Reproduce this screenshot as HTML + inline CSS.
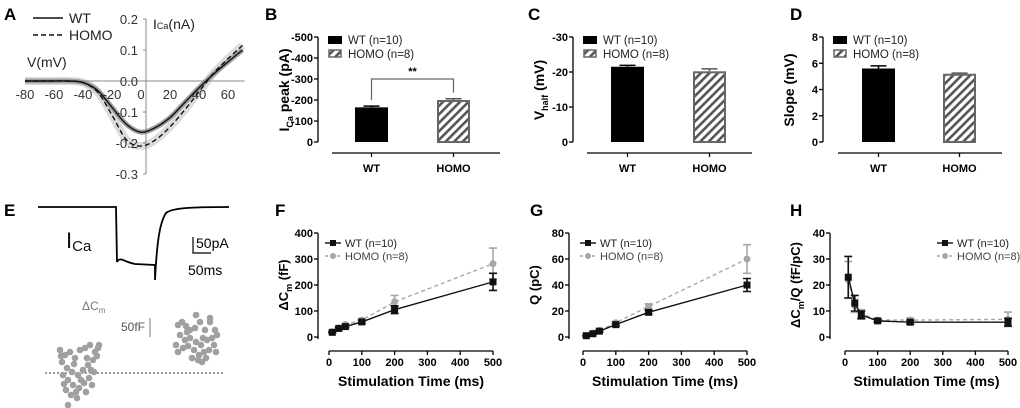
<!DOCTYPE html>
<html><head><meta charset="utf-8">
<style>
html,body{margin:0;padding:0;background:#fff;}
svg{display:block;font-family:"Liberation Sans",Arial,sans-serif;}
</style></head>
<body>
<svg id="fig" width="1020" height="408" viewBox="0 0 1020 408" xmlns="http://www.w3.org/2000/svg">
<defs>
<pattern id="hatch" patternUnits="userSpaceOnUse" width="6" height="6" patternTransform="rotate(45)">
<rect width="6" height="6" fill="#fff"/><rect x="0" y="0" width="2.6" height="6" fill="#555"/>
</pattern>
</defs>
<g font-size="17" font-weight="bold">
<text x="4" y="20">A</text><text x="265" y="20">B</text><text x="528" y="20">C</text><text x="790" y="20">D</text>
<text x="4" y="216">E</text><text x="275" y="216">F</text><text x="530" y="216">G</text><text x="790" y="216">H</text>
</g>
<g id="pA"></g>
<g id="pB"></g>
<g id="pC"></g>
<g id="pD"></g>
<g id="pE"></g>
<g id="pF"></g>
<g id="pG"></g>
<g id="pH"></g>
</svg>
<script>
// ---- Panel A data ----
const ivVoltages=[-80,-70,-60,-50,-40,-30,-20,-10,0,10,20,30,40,50,60,70];
const ivWT=[0,0,0,0,-0.005,-0.03,-0.085,-0.14,-0.165,-0.15,-0.118,-0.07,-0.022,0.022,0.062,0.1];
const ivHOMO=[0,0,0,0,-0.005,-0.035,-0.11,-0.19,-0.21,-0.19,-0.148,-0.094,-0.035,0.025,0.072,0.115];
const ivXTicks=[-80,-60,-40,-20,0,20,40,60];
const ivYTicks=[0.2,0.1,0.0,-0.1,-0.2,-0.3];
// ---- Bar data ----
const barGroups=["WT","HOMO"];
const icaPeak=[165,200]; const icaErr=[6,6];
const icaTicks=[0,100,200,300,400,500];
const vhalf=[21.5,20.2]; const vhalfErr=[0.4,0.7];
const vhalfTicks=[0,10,20,30];
const slope=[5.6,5.2]; const slopeErr=[0.2,0.05];
const slopeTicks=[0,2,4,6,8];
// ---- Line data ----
const stimTimes=[10,30,50,100,200,500];
const timeTicks=[0,100,200,300,400,500];
const cmWT=[18,33,40,58,105,212]; const cmWTErr=[3,4,4,6,15,33];
const cmHOMO=[20,35,48,65,135,282]; const cmHOMOErr=[3,4,4,6,25,60];
const cmTicks=[0,100,200,300,400];
const qWT=[1,2.5,4.5,9.5,19,40]; const qWTErr=[0.5,0.5,0.7,1,1.5,5];
const qHOMO=[1,3,5,11,23.5,60]; const qHOMOErr=[0.5,0.5,0.7,1,2,11];
const qTicks=[0,20,40,60,80];
const effWT=[23,13,8.5,6.2,5.7,5.7]; const effWTErr=[8,3,1.5,0.5,0.7,1.5];
const effHOMO=[22,12,9,6.5,6.5,6.8]; const effHOMOErr=[7,2.5,1.5,0.6,0.8,2.8];
const effTicks=[0,10,20,30,40];
// ---- Panel E dots ----
const dots1=[[60,350],[65,355],[70,352],[75,358],[80,350],[85,348],[90,345],[95,352],[98,348],[62,362],[67,368],[72,372],[78,375],[83,370],[88,365],[93,360],[97,356],[63,375],[68,380],[73,385],[79,388],[84,383],[89,378],[94,372],[66,390],[71,395],[77,398],[86,392],[92,385],[68,405],[61,356],[74,364],[81,380],[87,358],[99,345],[64,384],[76,392],[91,370]];
const dots2=[[178,325],[182,322],[186,326],[190,330],[195,328],[200,322],[205,330],[210,322],[215,330],[180,335],[185,340],[190,338],[196,342],[201,345],[207,340],[212,338],[217,335],[183,348],[188,346],[194,350],[199,355],[204,352],[209,350],[214,345],[176,345],[178,352],[192,358],[202,362],[216,352],[196,315],[210,318],[187,332],[203,338],[198,360],[206,358]];

const NS="http://www.w3.org/2000/svg";
function mk(parent,tag,attrs,text){const e=document.createElementNS(NS,tag);for(const k in attrs)e.setAttribute(k,attrs[k]);if(text!==undefined)e.textContent=text;parent.appendChild(e);return e;}

// ---------- Panel A ----------
(function(){
const g=document.getElementById('pA');
const X0=25,X1=228,Y0=81;
const sx=v=>X0+(v+80)*(X1-X0)/140;
const sy=v=>Y0-v*310;
function path(arr){const pts=ivVoltages.map((v,i)=>[sx(v),sy(arr[i])]);
let d='M'+pts[0][0]+','+pts[0][1];
for(let i=1;i<pts.length;i++){const p0=pts[Math.max(0,i-2)],p1=pts[i-1],p2=pts[i],p3=pts[Math.min(pts.length-1,i+1)];
d+=' C'+(p1[0]+(p2[0]-p0[0])/6)+','+(p1[1]+(p2[1]-p0[1])/6)+' '+(p2[0]-(p3[0]-p1[0])/6)+','+(p2[1]-(p3[1]-p1[1])/6)+' '+p2[0]+','+p2[1];}
return d;}
const band2=mk(g,'path',{d:path(ivHOMO),fill:'none',stroke:'#dcdcdc','stroke-width':8});

const band=mk(g,'path',{d:path(ivWT),fill:'none',stroke:'#a0a0a0','stroke-width':5});

const ax=mk(g,'line',{x1:sx(-80),x2:sx(70)+2,y1:Y0,y2:Y0,stroke:'#888','stroke-width':1});

const ay=mk(g,'line',{x1:146,x2:146,y1:sy(0.2),y2:sy(-0.3),stroke:'#888','stroke-width':1});

ivYTicks.forEach(t=>{const l=mk(g,'line',{x1:143,x2:146,y1:sy(t),y2:sy(t),stroke:'#888'});

const tx=mk(g,'text',{x:138,y:sy(t)+5,'text-anchor':'end','font-size':13,fill:'#333'},t.toFixed(1));
});
ivXTicks.forEach(t=>{const tx=mk(g,'text',{x:sx(t),y:99,'text-anchor':'middle','font-size':13,fill:'#333'},String(t));
});
const lw=mk(g,'path',{d:path(ivWT),fill:'none',stroke:'#111','stroke-width':1.4});

const lh=mk(g,'path',{d:path(ivHOMO),fill:'none',stroke:'#111','stroke-width':1.4,'stroke-dasharray':'5,3'});

const l1=mk(g,'line',{x1:33,x2:63,y1:18,y2:18,stroke:'#111','stroke-width':1.4});

const t1=mk(g,'text',{x:69,y:23,'font-size':14,fill:'#222'},'WT');

const l2=mk(g,'line',{x1:33,x2:63,y1:35,y2:35,stroke:'#111','stroke-width':1.4,'stroke-dasharray':'5,3'});

const t2=mk(g,'text',{x:69,y:40,'font-size':14,fill:'#222'},'HOMO');

const vl=mk(g,'text',{x:27,y:67,'font-size':14,fill:'#222'},'V(mV)');

const il=mk(g,'text',{x:153,y:29,'font-size':14,fill:'#222'});

il.innerHTML='I<tspan font-size="9">Ca</tspan><tspan>(nA)</tspan>';
})();

// ---------- Bar panels ----------
function barPanel(id,axX,vals,errs,ticks,tickPrefix,titleHTML,bars,xl,xr,showSig){
const g=document.getElementById(id);
const Y0=142,YT=37,max=ticks[ticks.length-1];
const sy=v=>Y0-v*(Y0-YT)/max;
const ay=mk(g,'line',{x1:axX,x2:axX,y1:YT,y2:Y0,stroke:'#000','stroke-width':1.3});

ticks.forEach(t=>{const l=mk(g,'line',{x1:axX-4,x2:axX,y1:sy(t),y2:sy(t),stroke:'#000','stroke-width':1.3});

const tx=mk(g,'text',{x:axX-5,y:sy(t)+4,'text-anchor':'end','font-size':11,'font-weight':'bold'},(t===0?'':tickPrefix)+t);
});
const axx=mk(g,'line',{x1:xl,x2:xr,y1:153,y2:153,stroke:'#000','stroke-width':1.3});

vals.forEach((v,i)=>{const x=bars[i],w=33,c=x+w/2;
const top=sy(v),eTop=sy(v+errs[i]);
const el=mk(g,'line',{x1:c,x2:c,y1:top,y2:eTop,stroke:i?'#555':'#000','stroke-width':1.5});

const ec=mk(g,'line',{x1:c-8,x2:c+8,y1:eTop,y2:eTop,stroke:i?'#555':'#000','stroke-width':1.5});

const r=mk(g,'rect',{x:i?x+1:x,y:i?top+1:top,width:i?w-2:w,height:i?Y0-top-1:Y0-top,fill:i?'url(#hatch)':'#000',stroke:i?'#666':'none','stroke-width':2});

const tk=mk(g,'line',{x1:c,x2:c,y1:153,y2:157,stroke:'#000','stroke-width':1.3});

const lb=mk(g,'text',{x:c,y:172,'text-anchor':'middle','font-size':11,'font-weight':'bold'},barGroups[i]);
});
const lx=axX+10;
const r1=mk(g,'rect',{x:lx,y:36,width:14,height:8,fill:'#000'});

const t1=mk(g,'text',{x:lx+20,y:44,'font-size':11.5,fill:'#222'},'WT (n=10)');

const r2=mk(g,'rect',{x:lx+1,y:50,width:12,height:7,fill:'url(#hatch)',stroke:'#666','stroke-width':1.5});

const t2=mk(g,'text',{x:lx+20,y:58,'font-size':11.5,fill:'#222'},'HOMO (n=8)');

const tt=mk(g,'text',{transform:'translate('+(axX-29)+',90) rotate(-90)','text-anchor':'middle','font-size':14,'font-weight':'bold'});

tt.innerHTML=titleHTML;
if(showSig){const c1=bars[0]+16.5,c2=bars[1]+16.5;
const br=mk(g,'path',{d:'M'+c1+','+(sy(vals[0]+errs[0])-6)+' V79 H'+c2+' V'+(sy(vals[1]+errs[1])-6),fill:'none',stroke:'#666','stroke-width':1.2});

const st=mk(g,'text',{x:(c1+c2)/2,y:75,'text-anchor':'middle','font-size':11,'font-weight':'bold'},'**');
}
}
barPanel('pB',318,icaPeak,icaErr,icaTicks,'-','I<tspan font-size="9" dy="4">Ca</tspan><tspan dy="-4"> peak  (pA)</tspan>',[355,437],332,500,true);
barPanel('pC',573,vhalf,vhalfErr,vhalfTicks,'-','V<tspan font-size="9" dy="4">half</tspan><tspan dy="-4"> (mV)</tspan>',[611,693],587,752,false);
barPanel('pD',823,slope,slopeErr,slopeTicks,'','Slope (mV)',[862,943],838,1002,false);

// ---------- Line panels ----------
function linePanel(id,axX,x0,x1,wt,wtE,ho,hoE,ticks,titleHTML,legX){
const g=document.getElementById(id);
const Y0=337,YT=233,max=ticks[ticks.length-1];
const sy=v=>Y0-v*(Y0-YT)/max;
const sx=t=>x0+t*(x1-x0)/500;
const ay=mk(g,'line',{x1:axX,x2:axX,y1:YT,y2:Y0+2,stroke:'#000','stroke-width':1.3});

ticks.forEach(t=>{const l=mk(g,'line',{x1:axX-4,x2:axX,y1:sy(t),y2:sy(t),stroke:'#000','stroke-width':1.3});

const tx=mk(g,'text',{x:axX-5,y:sy(t)+4,'text-anchor':'end','font-size':11,'font-weight':'bold'},String(t));
});
const axx=mk(g,'line',{x1:x0,x2:x1,y1:351,y2:351,stroke:'#000','stroke-width':1.3});

timeTicks.forEach(t=>{const l=mk(g,'line',{x1:sx(t),x2:sx(t),y1:351,y2:355,stroke:'#000','stroke-width':1.3});

const tx=mk(g,'text',{x:sx(t),y:366,'text-anchor':'middle','font-size':11,'font-weight':'bold'},String(t));
});
const xt=mk(g,'text',{x:(x0+x1)/2,y:386,'text-anchor':'middle','font-size':14,'font-weight':'bold'},'Stimulation Time (ms)');

const yt=mk(g,'text',{transform:'translate('+(axX-30)+',285) rotate(-90)','text-anchor':'middle','font-size':13,'font-weight':'bold'});

yt.innerHTML=titleHTML;
function series(vals,errs,col,dash,name,sq){
const pl=mk(g,'polyline',{points:stimTimes.map((t,i)=>sx(t)+','+sy(vals[i])).join(' '),fill:'none',stroke:col,'stroke-width':1.4,'stroke-dasharray':dash});

stimTimes.forEach((t,i)=>{const x=sx(t),y=sy(vals[i]),e1=sy(vals[i]+errs[i]),e2=sy(vals[i]-errs[i]);
const eb=mk(g,'path',{d:'M'+x+','+e1+' V'+e2+' M'+(x-4)+','+e1+' H'+(x+4)+' M'+(x-4)+','+e2+' H'+(x+4),stroke:col,'stroke-width':1.6,fill:'none'});

const m=sq?mk(g,'rect',{x:x-3.5,y:y-3.5,width:7,height:7,fill:col}):mk(g,'circle',{cx:x,cy:y,r:3.5,fill:col});
});}
series(ho,hoE,'#a8a8a8','4,3','homo',false);
series(wt,wtE,'#111','','wt',true);
const ll=mk(g,'line',{x1:legX,x2:legX+16,y1:243,y2:243,stroke:'#111','stroke-width':1.4});

const lm=mk(g,'rect',{x:legX+5,y:240,width:6,height:6,fill:'#111'});

const lt=mk(g,'text',{x:legX+20,y:247,'font-size':11,fill:'#222'},'WT (n=10)');

const l2=mk(g,'line',{x1:legX,x2:legX+16,y1:256,y2:256,stroke:'#a8a8a8','stroke-width':1.4,'stroke-dasharray':'3,3'});

const m2=mk(g,'circle',{cx:legX+8,cy:256,r:3,fill:'#a8a8a8'});

const t2=mk(g,'text',{x:legX+20,y:260,'font-size':11,fill:'#444'},'HOMO (n=8)');

}
linePanel('pF',318,329,493,cmWT,cmWTErr,cmHOMO,cmHOMOErr,cmTicks,'ΔC<tspan font-size="9" dy="4">m</tspan><tspan dy="-4"> (fF)</tspan>',325);
linePanel('pG',569,583,747,qWT,qWTErr,qHOMO,qHOMOErr,qTicks,'Q (pC)',580);
linePanel('pH',830,845,1008,effWT,effWTErr,effHOMO,effHOMOErr,effTicks,'ΔC<tspan font-size="9" dy="4">m</tspan><tspan dy="-4">/Q (fF/pC)</tspan>',937);

// ---------- Panel E ----------
(function(){
const g=document.getElementById('pE');
const tr=mk(g,'path',{d:'M38,207 L116,207 L117,262 C120,256 124,262 135,264 L155,265 L155,280 C157,240 160,222 166,213 C172,208 190,207 229,207',fill:'none',stroke:'#000','stroke-width':1.8});

const it=mk(g,'text',{x:66,y:248,'font-size':22,fill:'#111'});

it.innerHTML='I<tspan font-size="15" dy="3">Ca</tspan>';
const sb=mk(g,'path',{d:'M193,237 V253 H211',fill:'none',stroke:'#000','stroke-width':1.2});

const s1=mk(g,'text',{x:196,y:248,'font-size':14},'50pA');

const s2=mk(g,'text',{x:188,y:275,'font-size':14},'50ms');

const cm=mk(g,'text',{x:82,y:310,'font-size':12,fill:'#777'});

cm.innerHTML='ΔC<tspan font-size="8" dy="3">m</tspan>';
const ff=mk(g,'text',{x:121,y:331,'font-size':12,fill:'#555'},'50fF');

const fb=mk(g,'line',{x1:150,x2:150,y1:318,y2:337,stroke:'#777','stroke-width':1});

const dl=mk(g,'line',{x1:45,x2:225,y1:373,y2:373,stroke:'#333','stroke-width':1,'stroke-dasharray':'2,2'});

dots1.concat(dots2).forEach(p=>{const c=mk(g,'circle',{cx:p[0],cy:p[1],r:3.3,fill:'#a0a0a0'});
});
})();
</script>
</body></html>
